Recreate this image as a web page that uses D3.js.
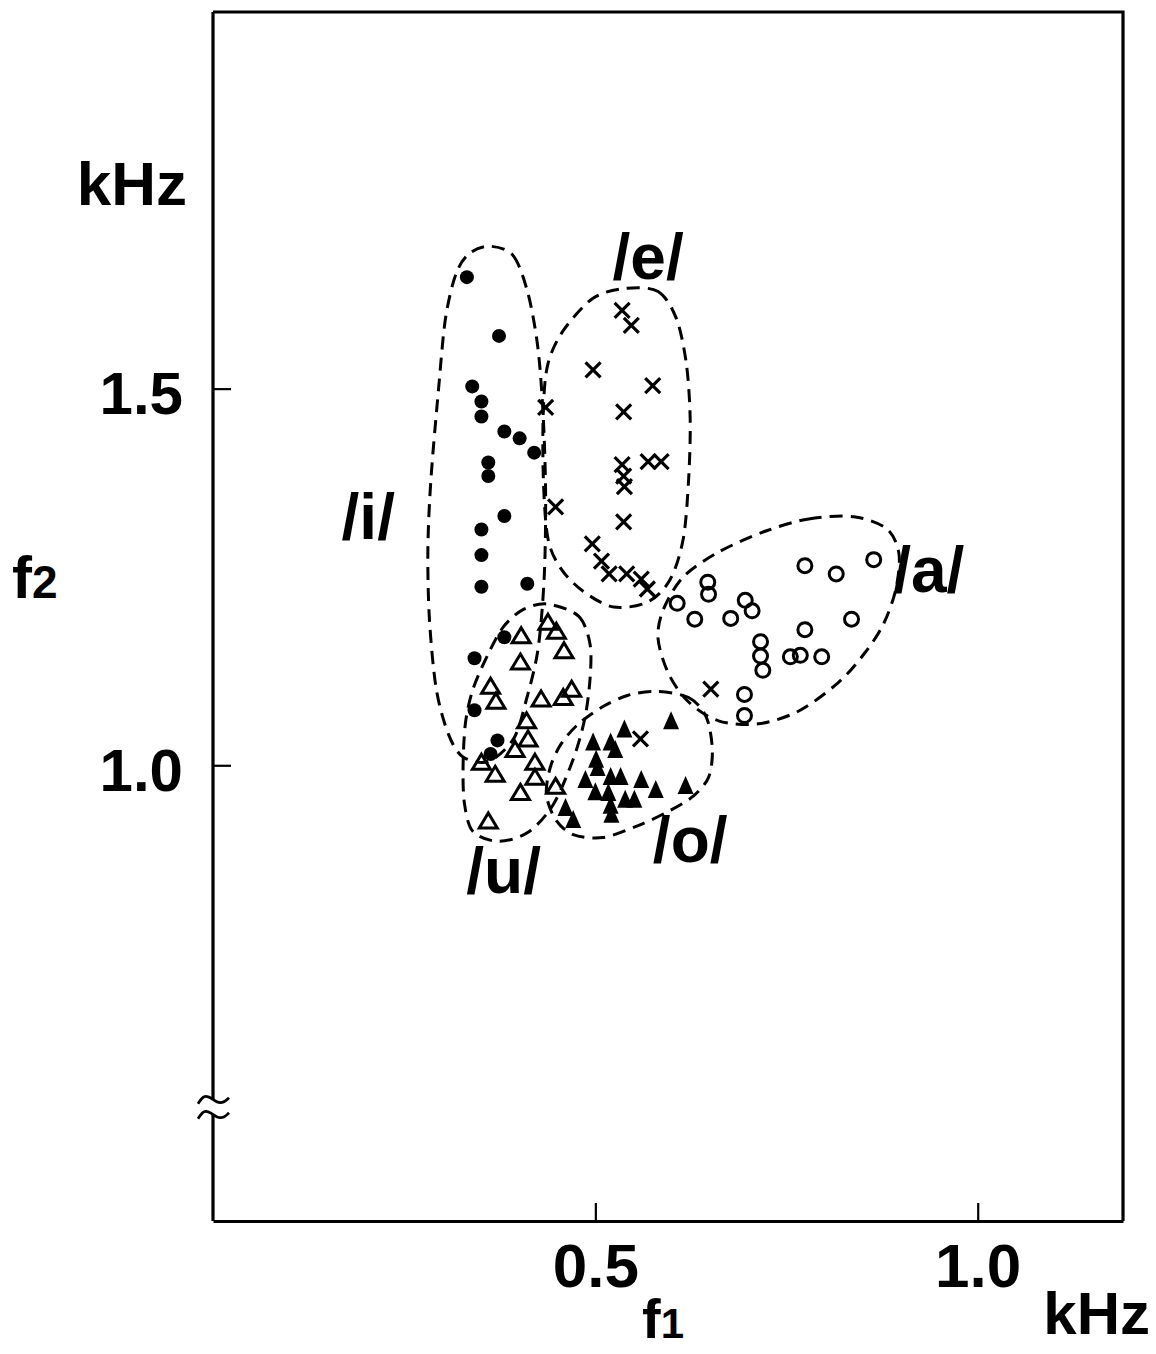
<!DOCTYPE html>
<html>
<head>
<meta charset="utf-8">
<script src="https://cdn.jsdelivr.net/npm/d3@7"></script>
<style>
    body { margin: 0; background: #fff; }
    svg { display: block; background: #fff; }
    text { font-family: "Liberation Sans", Arial, Helvetica, sans-serif; font-weight: bold; fill: #000; }
</style>
</head>
<body>
<svg id="chart" width="1156" height="1354"></svg>
<script>

// /i/ - filled circles
const vowelI = [
    [0.332, 1.648], [0.374, 1.570], [0.339, 1.503], [0.351, 1.483], [0.351, 1.463],
    [0.381, 1.443], [0.401, 1.434], [0.420, 1.415], [0.360, 1.402], [0.360, 1.384],
    [0.381, 1.331], [0.351, 1.313], [0.351, 1.279], [0.351, 1.237], [0.411, 1.241],
    [0.381, 1.170], [0.342, 1.142], [0.342, 1.073], [0.372, 1.033], [0.363, 1.015]
];

// /e/ - crosses
const vowelE = [
    [0.535, 1.604], [0.547, 1.584], [0.497, 1.525], [0.575, 1.504], [0.435, 1.475],
    [0.537, 1.469], [0.535, 1.399], [0.569, 1.403], [0.586, 1.403], [0.537, 1.384],
    [0.538, 1.370], [0.448, 1.343], [0.537, 1.323], [0.496, 1.294], [0.508, 1.271],
    [0.518, 1.254], [0.541, 1.254], [0.560, 1.247], [0.568, 1.234], [0.651, 1.101],
    [0.559, 1.035]
];

// /a/ - open circles
const vowelA = [
    [0.774, 1.265], [0.815, 1.254], [0.864, 1.273], [0.647, 1.243], [0.648, 1.227],
    [0.607, 1.215], [0.630, 1.194], [0.677, 1.195], [0.696, 1.219], [0.705, 1.205],
    [0.835, 1.194], [0.774, 1.180], [0.716, 1.164], [0.716, 1.145], [0.719, 1.126],
    [0.755, 1.144], [0.768, 1.146], [0.796, 1.144], [0.695, 1.094], [0.695, 1.066]
];

// /u/ - open triangles
const vowelU = [
    [0.438, 1.190], [0.449, 1.178], [0.403, 1.172], [0.459, 1.152], [0.402, 1.137],
    [0.363, 1.105], [0.370, 1.085], [0.429, 1.088], [0.458, 1.090], [0.469, 1.101],
    [0.410, 1.059], [0.412, 1.035], [0.395, 1.021], [0.421, 1.004], [0.351, 1.004],
    [0.369, 0.988], [0.421, 0.984], [0.402, 0.964], [0.448, 0.972], [0.360, 0.926]
];

// /o/ - filled triangles
const vowelO = [
    [0.599, 1.059], [0.538, 1.048], [0.497, 1.031], [0.520, 1.031], [0.526, 1.021],
    [0.501, 1.008], [0.503, 0.997], [0.487, 0.981], [0.520, 0.985], [0.533, 0.985],
    [0.560, 0.981], [0.579, 0.968], [0.618, 0.973], [0.500, 0.965], [0.517, 0.964],
    [0.539, 0.955], [0.551, 0.955], [0.520, 0.947], [0.521, 0.935], [0.461, 0.944],
    [0.471, 0.928]
];

// hand drawn dashed regions round each vowel, [f1, f2]
const regionI = [
    [0.363, 1.689], [0.393, 1.676], [0.412, 1.626], [0.425, 1.553], [0.432, 1.460],
    [0.435, 1.354], [0.433, 1.247], [0.425, 1.154], [0.410, 1.088], [0.393, 1.035],
    [0.360, 1.005], [0.327, 1.011], [0.308, 1.041], [0.292, 1.101], [0.283, 1.194],
    [0.281, 1.287], [0.285, 1.380], [0.295, 1.500], [0.304, 1.593], [0.318, 1.653],
    [0.336, 1.680]
];
const regionE = [
    [0.539, 1.633], [0.582, 1.629], [0.606, 1.593], [0.619, 1.533], [0.624, 1.460],
    [0.622, 1.380], [0.615, 1.301], [0.598, 1.247], [0.569, 1.217], [0.524, 1.210],
    [0.484, 1.231], [0.455, 1.261], [0.438, 1.301], [0.432, 1.380], [0.432, 1.473],
    [0.438, 1.533], [0.458, 1.577], [0.497, 1.620]
];
const regionA = [
    [0.723, 1.311], [0.779, 1.327], [0.838, 1.330], [0.881, 1.314], [0.897, 1.281],
    [0.893, 1.234], [0.877, 1.188], [0.853, 1.150], [0.818, 1.110], [0.766, 1.072],
    [0.713, 1.055], [0.661, 1.059], [0.622, 1.084], [0.596, 1.121], [0.582, 1.168],
    [0.589, 1.207], [0.615, 1.250], [0.661, 1.283]
];
const regionO = [
    [0.579, 1.098], [0.622, 1.090], [0.645, 1.064], [0.653, 1.021], [0.648, 0.984],
    [0.628, 0.959], [0.596, 0.939], [0.556, 0.920], [0.510, 0.904], [0.471, 0.908],
    [0.448, 0.928], [0.436, 0.961], [0.441, 0.997], [0.455, 1.028], [0.478, 1.055],
    [0.510, 1.078], [0.543, 1.093]
];
const regionU = [
    [0.438, 1.214], [0.478, 1.198], [0.493, 1.161], [0.493, 1.114], [0.486, 1.061],
    [0.471, 1.008], [0.445, 0.948], [0.412, 0.911], [0.373, 0.899], [0.340, 0.912],
    [0.329, 0.948], [0.327, 0.995], [0.330, 1.055], [0.340, 1.101], [0.360, 1.148],
    [0.380, 1.184], [0.406, 1.207]
];

// vowel names and where they sit
const vowelNames = ['/i/', '/e/', '/a/', '/o/', '/u/'];
const vowelLabelPos = [[0.203, 1.301], [0.569, 1.646], [0.936, 1.230], [0.624, 0.871], [0.380, 0.831]];

// axes
const xTicks = [0.5, 1.0];
const yTicks = [1.0, 1.5];
const xDomain = [0, 1.19];
const yDomain = [0.395, 2.0];
const yBreak = [0.536, 0.556]; // axis break (≈) on the f2 axis

const svg = d3.select('#chart');

const x = d3.scaleLinear().domain(xDomain).range([213, 1123]);
const y = d3.scaleLinear().domain(yDomain).range([1221, 12]);

// dashed regions
const outline = d3.line()
    .x(function(d) { return x(d[0]); })
    .y(function(d) { return y(d[1]); })
    .curve(d3.curveCardinalClosed.tension(0.1));

svg.append('g').selectAll('path')
    .data([regionI, regionE, regionA, regionO, regionU])
    .enter().append('path')
    .attr('d', outline)
    .attr('fill', 'none')
    .attr('stroke', '#000')
    .attr('stroke-width', 3)
    .attr('stroke-dasharray', '13,8');

// frame: top and right sides
svg.append('path')
    .attr('d', 'M' + x(xDomain[0]) + ',' + y(yDomain[1]) + 'H' + x(xDomain[1]) + 'V' + y(yDomain[0]))
    .attr('fill', 'none')
    .attr('stroke', '#000')
    .attr('stroke-width', 3.2);

// left axis, in two pieces round the break
svg.append('path')
    .attr('d', 'M' + x(xDomain[0]) + ',' + y(yDomain[1]) + 'V' + y(yBreak[1])
        + 'M' + x(xDomain[0]) + ',' + y(yBreak[0]) + 'V' + y(yDomain[0]))
    .attr('fill', 'none')
    .attr('stroke', '#000')
    .attr('stroke-width', 3.2);

// break marks
const tilde = d3.line().curve(d3.curveBasis);
svg.append('g').selectAll('path')
    .data(yBreak)
    .enter().append('path')
    .attr('transform', function(d) { return 'translate(' + x(xDomain[0]) + ',' + y(d) + ')'; })
    .attr('d', tilde([[-15, 4], [-9, -5], [-2, -2], [4, 3], [11, 3], [16, -2]]))
    .attr('fill', 'none')
    .attr('stroke', '#000')
    .attr('stroke-width', 2.8);

// tick marks and numbers
const yAxis = svg.append('g')
    .attr('transform', 'translate(' + x(xDomain[0]) + ',0)')
    .call(d3.axisLeft(y).tickValues(yTicks).tickFormat(d3.format('.1f'))
        .tickSizeInner(-18).tickSizeOuter(0).tickPadding(30));
yAxis.select('.domain').remove();
yAxis.selectAll('line').attr('stroke-width', 2.2);
yAxis.selectAll('text')
    .attr('font-size', 60)
    .attr('font-family', '"Liberation Sans", Arial, sans-serif')
    .attr('font-weight', 'bold')
    .attr('dy', '0.42em');

const xAxis = svg.append('g')
    .attr('transform', 'translate(0,' + y(yDomain[0]) + ')')
    .call(d3.axisBottom(x).tickValues(xTicks).tickFormat(d3.format('.1f'))
        .tickSizeInner(-18).tickSizeOuter(0).tickPadding(22));
xAxis.select('.domain').attr('stroke-width', 3.2);
xAxis.selectAll('line').attr('stroke-width', 2.2);
xAxis.selectAll('text')
    .attr('font-size', 62)
    .attr('font-family', '"Liberation Sans", Arial, sans-serif')
    .attr('font-weight', 'bold');

// axis titles
svg.append('text').attr('x', 187).attr('y', 205).attr('text-anchor', 'end')
    .attr('font-size', 62).text('kHz');
svg.append('text').attr('x', 1150).attr('y', 1334).attr('text-anchor', 'end')
    .attr('font-size', 60).text('kHz');

const f2 = svg.append('text').attr('x', 12).attr('y', 598).attr('font-size', 60);
f2.append('tspan').text('f');
f2.append('tspan').attr('font-size', 46).text('2');

const f1 = svg.append('text').attr('x', 642).attr('y', 1338).attr('font-size', 56);
f1.append('tspan').text('f');
f1.append('tspan').attr('font-size', 42).text('1');

// vowel labels
svg.append('g').selectAll('text')
    .data(vowelNames)
    .enter().append('text')
    .attr('x', function(d, i) { return x(vowelLabelPos[i][0]); })
    .attr('y', function(d, i) { return y(vowelLabelPos[i][1]); })
    .attr('text-anchor', 'middle')
    .attr('font-size', 64)
    .text(function(d) { return d; });

// markers
function place(d) { return 'translate(' + x(d[0]) + ',' + y(d[1]) + ')'; }

svg.append('g').selectAll('circle')
    .data(vowelI)
    .enter().append('circle')
    .attr('cx', function(d) { return x(d[0]); })
    .attr('cy', function(d) { return y(d[1]); })
    .attr('r', 7)
    .attr('fill', '#000');

svg.append('g').selectAll('path')
    .data(vowelE)
    .enter().append('path')
    .attr('transform', place)
    .attr('d', 'M-7.5,-7.5L7.5,7.5M-7.5,7.5L7.5,-7.5')
    .attr('stroke', '#000')
    .attr('stroke-width', 3.2);

svg.append('g').selectAll('circle')
    .data(vowelA)
    .enter().append('circle')
    .attr('cx', function(d) { return x(d[0]); })
    .attr('cy', function(d) { return y(d[1]); })
    .attr('r', 7)
    .attr('fill', 'none')
    .attr('stroke', '#000')
    .attr('stroke-width', 3);

svg.append('g').selectAll('path')
    .data(vowelU)
    .enter().append('path')
    .attr('transform', place)
    .attr('d', 'M0,-8L9,7H-9Z')
    .attr('fill', 'none')
    .attr('stroke', '#000')
    .attr('stroke-width', 3)
    .attr('stroke-linejoin', 'miter');

svg.append('g').selectAll('path')
    .data(vowelO)
    .enter().append('path')
    .attr('transform', place)
    .attr('d', 'M0,-9.5L8,8.5H-8Z')
    .attr('fill', '#000');
</script>
</body>
</html>
